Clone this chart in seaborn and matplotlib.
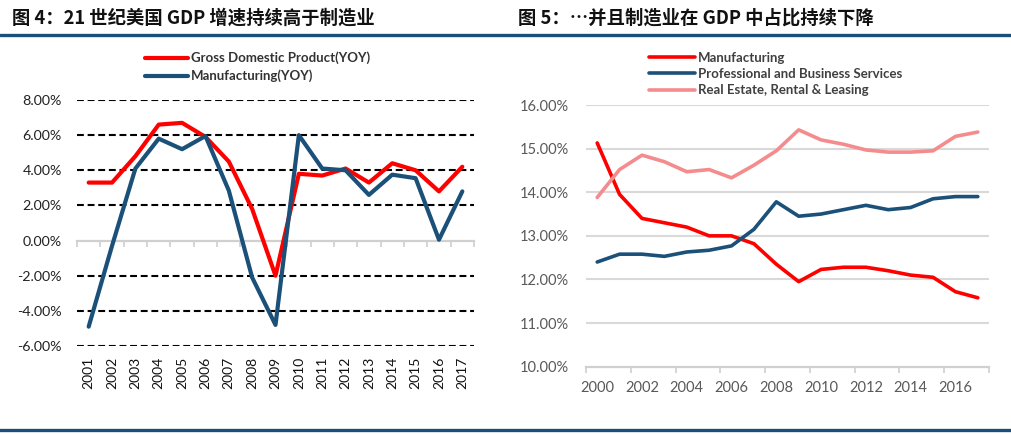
import pandas as pd
import matplotlib.pyplot as plt
import seaborn as sns
from matplotlib.lines import Line2D
from matplotlib.ticker import FuncFormatter

# left chart data: YOY growth (%), 2001-2017
years_left = list(range(2001, 2018))
gdp_yoy = [3.3, 3.3, 4.8, 6.6, 6.7, 5.9, 4.5, 1.8, -2.0, 3.8, 3.7, 4.1, 3.3, 4.4, 4.0, 2.8, 4.2]
mfg_yoy = [-4.9, -0.3, 4.1, 5.8, 5.2, 5.95, 2.85, -2.1, -4.8, 6.0, 4.1, 4.0, 2.6, 3.75, 3.55, 0.05, 2.8]

# right chart data: share of GDP (%), 2000-2017
years_right = list(range(2000, 2018))
mfg_share = [15.13, 13.95, 13.4, 13.3, 13.2, 13.0, 13.0, 12.82, 12.35, 11.95, 12.23, 12.28,
             12.28, 12.2, 12.1, 12.05, 11.72, 11.58]
pbs_share = [12.4, 12.58, 12.58, 12.53, 12.63, 12.67, 12.77, 13.15, 13.78, 13.45, 13.5, 13.6,
             13.7, 13.6, 13.65, 13.85, 13.9, 13.9]
re_share = [13.88, 14.52, 14.85, 14.7, 14.47, 14.52, 14.33, 14.62, 14.95, 15.43, 15.2, 15.1,
            14.97, 14.92, 14.92, 14.95, 15.28, 15.38]

left_labels = ['Gross Domestic Product(YOY)', 'Manufacturing(YOY)']
right_labels = ['Manufacturing', 'Professional and Business Services', 'Real Estate, Rental & Leasing']
title_left = '图 4：21 世纪美国 GDP 增速持续高于制造业'
title_right = '图 5：…并且制造业在 GDP 中占比持续下降'

RED = '#FF0000'
BLUE = '#1B5079'
PINK = '#F48C8E'
NAVY = '#1B4F7B'

sns.set_theme(style='white')
plt.rcParams['font.family'] = ['Lato', 'Noto Sans CJK SC', 'DejaVu Sans']

W, H = 1012, 434
fig = plt.figure(figsize=(W / 100, H / 100), dpi=100)


def rect(x0, x1, ytop, ybot):
    return [x0 / W, 1 - ybot / H, (x1 - x0) / W, (ybot - ytop) / H]


pct = FuncFormatter(lambda v, p: f'{v:.2f}%')

# ---------------- left chart ----------------
ax1 = fig.add_axes(rect(77, 474, 100, 346))
dfl = pd.DataFrame({'pos': list(range(len(years_left))) * 2,
                    'value': gdp_yoy + mfg_yoy,
                    'series': [left_labels[0]] * len(gdp_yoy) + [left_labels[1]] * len(mfg_yoy)})
sns.lineplot(data=dfl, x='pos', y='value', hue='series', palette=[RED, BLUE],
             linewidth=3.0, ax=ax1, legend=False, zorder=3)
ax1.set_xlim(-0.5, len(years_left) - 0.5)
ax1.set_ylim(-6, 8)
yt = list(range(-6, 9, 2))
ax1.set_yticks(yt)
ax1.yaxis.set_major_formatter(pct)
for v in yt:
    if v != 0:
        ax1.axhline(v, color='black', ls=(0, (3.3, 1.8)), lw=1.5, zorder=1)
ax1.set_xticks(range(len(years_left)))
ax1.set_xticklabels([str(y) for y in years_left], rotation=90)
ax1.tick_params(axis='x', length=0, pad=8, labelsize=10, labelcolor='#111111')
ax1.tick_params(axis='y', length=0, pad=11, labelsize=10.3, labelcolor='#222222')
ax1.set_xlabel('')
ax1.set_ylabel('')
for s in ax1.spines.values():
    s.set_visible(False)
sec = ax1.secondary_xaxis(6 / 14)
sec.set_xticks([i - 0.5 for i in range(len(years_left) + 1)])
sec.tick_params(axis='x', length=4, width=1.2, color='#D0D0D0', labelbottom=False)
sec.spines['bottom'].set_color('#D0D0D0')
sec.spines['bottom'].set_linewidth(1.6)

handles_l = [Line2D([], [], color=RED, lw=3.0), Line2D([], [], color=BLUE, lw=3.0)]
fig.legend(handles_l, left_labels, loc='center left', bbox_to_anchor=(133 / W, 1 - 67 / H),
           frameon=False, handlelength=3.3, handletextpad=0.2, labelspacing=0.4,
           prop={'size': 9.5, 'weight': 'bold'}, labelcolor='#333333')

# ---------------- right chart ----------------
ax2 = fig.add_axes(rect(586, 989, 105, 366.7))
n = len(years_right)
dfr = pd.DataFrame({'pos': list(range(n)) * 3,
                    'value': mfg_share + pbs_share + re_share,
                    'series': [right_labels[0]] * n + [right_labels[1]] * n + [right_labels[2]] * n})
sns.lineplot(data=dfr, x='pos', y='value', hue='series', palette=[RED, BLUE, PINK],
             linewidth=2.6, ax=ax2, legend=False, zorder=3)
ax2.set_xlim(-0.5, n - 0.5)
ax2.set_ylim(10, 16)
ax2.set_yticks(range(10, 17))
ax2.yaxis.set_major_formatter(pct)
for v in range(11, 17):
    ax2.axhline(v, color='#D9D9D9', lw=1.5, zorder=1)
ax2.set_xticks(range(0, n, 2))
ax2.set_xticklabels([str(y) for y in years_right[::2]])
ax2.set_xticks([i - 0.5 for i in range(0, n + 1, 2)], minor=True)
ax2.tick_params(axis='x', which='major', length=0, pad=10, labelsize=10.5, labelcolor='#595959')
ax2.tick_params(axis='x', which='minor', bottom=True, length=4, width=1.2, color='#D0D0D0')
ax2.tick_params(axis='y', length=0, pad=12, labelsize=10.5, labelcolor='#595959')
ax2.set_xlabel('')
ax2.set_ylabel('')
for k in ['top', 'left', 'right']:
    ax2.spines[k].set_visible(False)
ax2.spines['bottom'].set_color('#D0D0D0')
ax2.spines['bottom'].set_linewidth(1.6)

handles_r = [Line2D([], [], color=c, lw=2.6) for c in [RED, BLUE, PINK]]
fig.legend(handles_r, right_labels, loc='center left', bbox_to_anchor=(637 / W, 1 - 74 / H),
           frameon=False, handlelength=3.5, handletextpad=0.2, labelspacing=0.32,
           prop={'size': 9.5, 'weight': 'bold'}, labelcolor='#404040')

# ---------------- titles and rules ----------------
fig.text(12 / W, 1 - 18 / H, title_left, fontsize=13.2, fontweight='bold',
         family=['Noto Sans CJK SC', 'DejaVu Sans'], va='center', ha='left', color='#111111')
fig.text(518 / W, 1 - 18 / H, title_right, fontsize=13.2, fontweight='bold',
         family=['Noto Sans CJK SC', 'DejaVu Sans'], va='center', ha='left', color='#111111')
for yy in [35, 430]:
    fig.add_artist(Line2D([0, 1], [1 - yy / H, 1 - yy / H], transform=fig.transFigure,
                          color=NAVY, lw=2.4))

fig.savefig('out.png', dpi=100, facecolor='white')
